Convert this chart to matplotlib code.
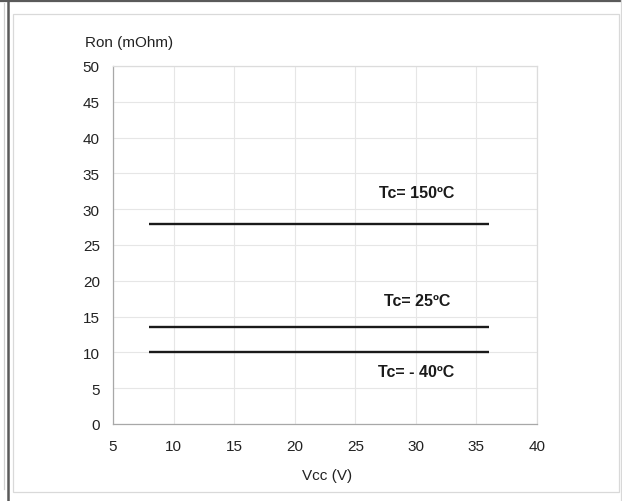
import matplotlib
matplotlib.use("Agg")
import matplotlib.pyplot as plt
from matplotlib.lines import Line2D
from matplotlib.patches import Rectangle

plt.rcParams['font.family'] = ['Liberation Sans', 'DejaVu Sans']

# data
vcc = [8, 36]
ron_150 = [28, 28]
ron_25 = [13.5, 13.5]
ron_m40 = [10, 10]

curve_labels = ["Tc= 150ºC", "Tc= 25ºC", "Tc= - 40ºC"]
label_x = [30.1, 30.1, 30.0]
label_y = [32.3, 17.3, 7.4]

x_ticks = [5, 10, 15, 20, 25, 30, 35, 40]
y_ticks = [0, 5, 10, 15, 20, 25, 30, 35, 40, 45, 50]

W, H = 622, 502
fig = plt.figure(figsize=(W / 100, H / 100), dpi=100)


def fx(px):
    return px / W


def fy(py):
    return 1 - py / H


# outer frame decorations (page borders around the chart)
fig.add_artist(Line2D([0, 1], [fy(1.5), fy(1.5)], color="#5a5a5a", lw=1.6,
                      transform=fig.transFigure))
fig.add_artist(Line2D([fx(8), fx(8)], [0, 1], color="#5a5a5a", lw=1.8,
                      transform=fig.transFigure))
fig.add_artist(Line2D([fx(4), fx(4)], [fy(490), fy(4)], color="#d0d0d0", lw=0.9,
                      transform=fig.transFigure))
fig.add_artist(Line2D([fx(621), fx(621)], [0, 1], color="#d8d8d8", lw=0.9,
                      transform=fig.transFigure))
fig.add_artist(Rectangle((fx(13), fy(492.5)), fx(619) - fx(13), fy(14.5) - fy(492.5),
                         fill=False, ec="#d9d9d9", lw=0.9, transform=fig.transFigure))

ax = fig.add_axes([fx(113), fy(425), fx(537) - fx(113), fy(67) - fy(425)])

for y in (ron_150, ron_25, ron_m40):
    ax.plot(vcc, y, color="#1a1a1a", lw=1.7, solid_capstyle="butt")

for txt, lx, ly in zip(curve_labels, label_x, label_y):
    ax.text(lx, ly, txt, ha="center", va="center", fontsize=11.5, fontweight="bold",
            color="#1a1a1a")

ax.set_xlim(5, 40)
ax.set_ylim(0, 50)
ax.set_xticks(x_ticks)
ax.set_yticks(y_ticks)
ax.grid(True, color="#e6e6e6", lw=0.8)
ax.set_axisbelow(True)
for side in ("top", "right"):
    ax.spines[side].set_color("#dcdcdc")
for side in ("left", "bottom"):
    ax.spines[side].set_color("#a8a8a8")
for s in ax.spines.values():
    s.set_linewidth(0.9)
ax.tick_params(length=0, labelsize=11, colors="#222222")
ax.tick_params(axis="x", pad=11)
ax.tick_params(axis="y", pad=9.5)

fig.text(fx(85), fy(43), "Ron (mOhm)", ha="left", va="center", fontsize=11,
         color="#222222")
fig.text(fx(327), fy(476), "Vcc (V)", ha="center", va="center", fontsize=11,
         color="#222222")

fig.savefig("out.png", dpi=100)
